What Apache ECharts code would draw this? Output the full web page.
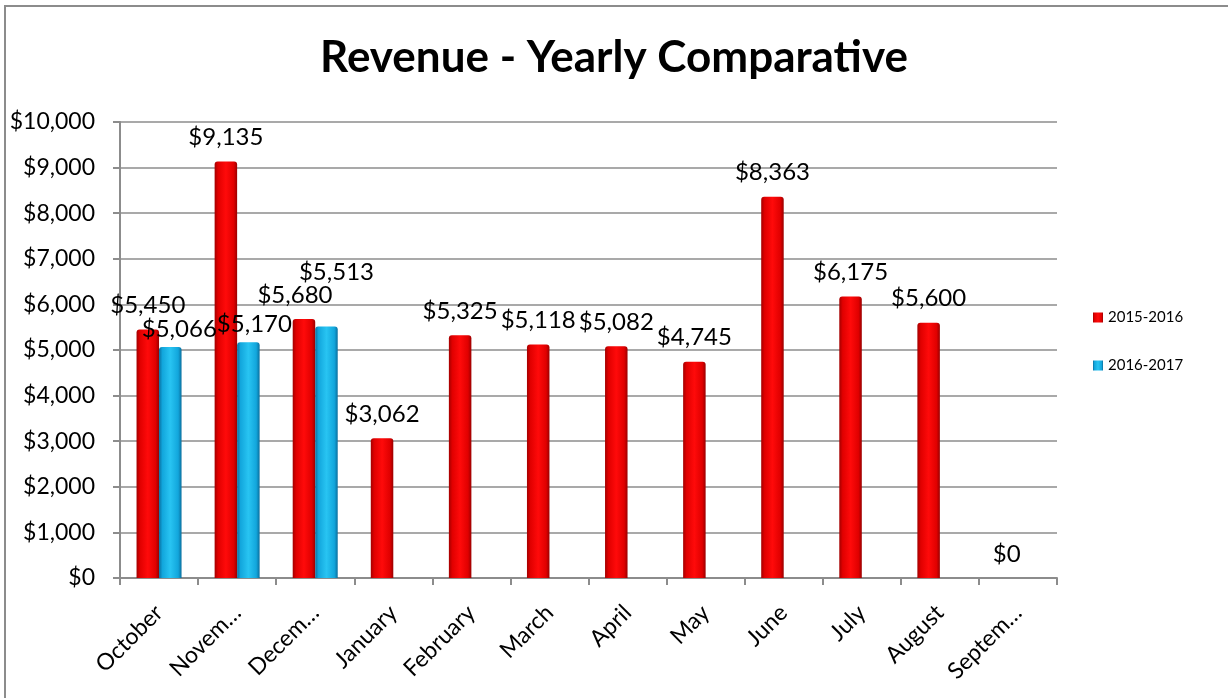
<!DOCTYPE html>
<html>
<head>
<meta charset="utf-8">
<script src="https://cdn.jsdelivr.net/npm/echarts@6/dist/echarts.min.js"></script>
<style>
html,body{margin:0;padding:0;background:#fff;}
#frame{position:absolute;left:4px;top:5px;width:1240px;height:710px;border-left:2px solid #8c8c8c;border-top:2px solid #8c8c8c;}
#chart{position:absolute;left:0;top:0;width:1228px;height:698px;}
</style>
</head>
<body>
<div id="frame"></div>
<div id="chart"></div>
<script>
const categories = ['October','November','December','January','February','March','April','May','June','July','August','September'];
const tickLabels = ['October','Novem…','Decem…','January','February','March','April','May','June','July','August','Septem…'];
const series2015 = [5450, 9135, 5680, 3062, 5325, 5118, 5082, 4745, 8363, 6175, 5600, 0];
const series2016 = [5066, 5170, 5513, null, null, null, null, null, null, null, null, null];
const seriesNames = ['2015-2016', '2016-2017'];
const yTicks = [0, 1000, 2000, 3000, 4000, 5000, 6000, 7000, 8000, 9000, 10000];

const fmt = v => '$' + Number(v).toLocaleString('en-US');
const font = 'Lato';

// label nudges that mimic the reference's overlap avoidance (style only)
const redLabelOffsets = {0: [0, 0], 2: [-9, 0]};
const blueLabelOffsets = {0: [9, 0], 1: [6, 0], 2: [10, -36]};

const redGrad = new echarts.graphic.LinearGradient(0,0,1,0,[
  {offset:0,color:'#a30000'},{offset:0.15,color:'#e00000'},{offset:0.5,color:'#ff0a0a'},{offset:0.85,color:'#e00000'},{offset:1,color:'#9a0000'}]);
const blueGrad = new echarts.graphic.LinearGradient(0,0,1,0,[
  {offset:0,color:'#0a6f9e'},{offset:0.15,color:'#12a6dc'},{offset:0.5,color:'#28c4f2'},{offset:0.85,color:'#12a6dc'},{offset:1,color:'#0a6f9e'}]);

function withOffsets(arr, offs) {
  return arr.map((v, i) => offs[i] ? {value: v, label: {offset: offs[i]}} : v);
}

const chart = echarts.init(document.getElementById('chart'), null, {renderer:'canvas'});
chart.setOption({
  backgroundColor: 'transparent',
  animation: false,
  title: {
    text: 'Revenue - Yearly Comparative',
    left: 'center', top: 31,
    textStyle: {fontFamily: font, fontWeight: 'bold', fontSize: 44, color: '#000'}
  },
  legend: {
    orient: 'vertical', left: 1088, top: 305, itemGap: 33,
    itemWidth: 10, itemHeight: 10, icon: 'rect',
    textStyle: {fontFamily: font, fontSize: 15, color: '#000'},
    data: seriesNames
  },
  grid: {left: 120, right: 171, top: 122, bottom: 120, containLabel: false},
  xAxis: {
    type: 'category',
    data: categories,
    axisLine: {show: true, lineStyle: {color: '#8c8c8c', width: 2}},
    axisTick: {show: true, alignWithLabel: false, length: 7, lineStyle: {color: '#8c8c8c', width: 2}},
    axisLabel: {
      rotate: 45, margin: 31, interval: 0,
      fontFamily: font, fontSize: 23, color: '#000',
      formatter: (v, i) => tickLabels[i]
    }
  },
  yAxis: {
    type: 'value', min: yTicks[0], max: yTicks[yTicks.length-1], interval: 1000,
    axisLine: {show: true, lineStyle: {color: '#8c8c8c', width: 2}},
    axisTick: {show: true, length: 7, lineStyle: {color: '#8c8c8c', width: 2}},
    splitLine: {show: true, lineStyle: {color: '#8c8c8c', width: 1.5}},
    axisLabel: {fontFamily: font, fontSize: 23, color: '#000', margin: 25, formatter: fmt}
  },
  series: [
    {
      name: seriesNames[0], type: 'bar', data: withOffsets(series2015, redLabelOffsets),
      barWidth: 22.5, barGap: '0%',
      itemStyle: {color: redGrad, borderRadius: [3,3,0,0]},
      label: {show: true, position: 'top', distance: 12, fontFamily: font, fontSize: 24, color: '#000',
        formatter: p => fmt(p.value)}
    },
    {
      name: seriesNames[1], type: 'bar', data: withOffsets(series2016, blueLabelOffsets),
      barWidth: 22.5, barGap: '0%',
      itemStyle: {color: blueGrad, borderRadius: [3,3,0,0]},
      label: {show: true, position: 'top', distance: 6, fontFamily: font, fontSize: 24, color: '#000',
        formatter: p => p.value == null ? '' : fmt(p.value)}
    }
  ]
});
</script>
</body>
</html>
